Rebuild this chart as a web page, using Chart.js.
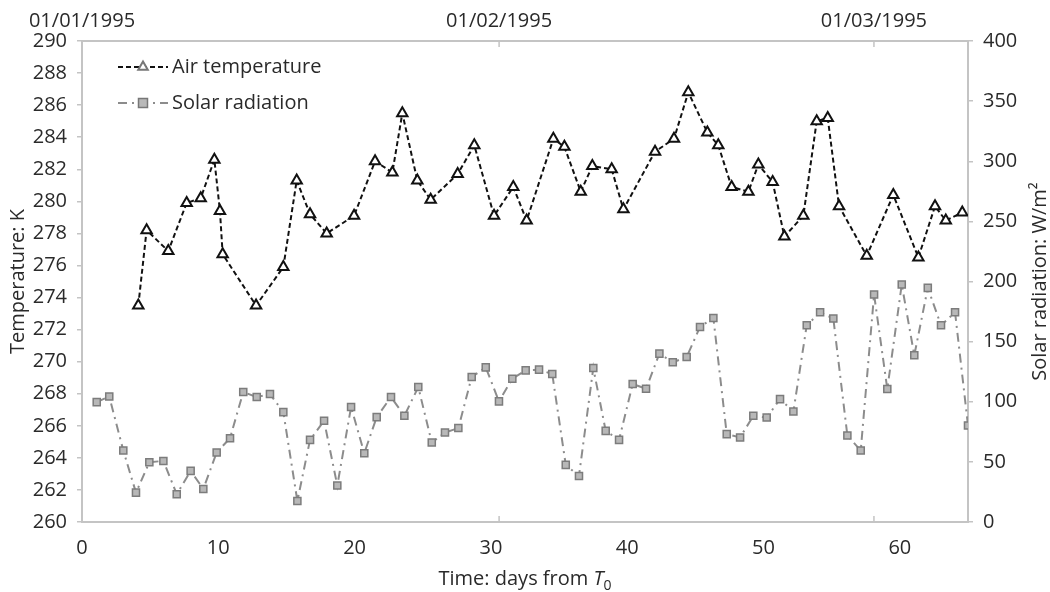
<!DOCTYPE html>
<html>
<head>
<meta charset="utf-8">
<title>Air temperature and solar radiation</title>
<script src="https://cdn.jsdelivr.net/npm/chart.js@4.4.0/dist/chart.umd.min.js"></script>
<style>
    body { margin: 0; background: #fff; }
    canvas { display: block; }
</style>
</head>
<body>
<canvas id="climateChart" width="1050" height="592"></canvas>
<script>
// Air temperature (K), days from T0
const tempDays = [4.13, 4.74, 6.33, 7.68, 8.71, 9.71, 10.12, 10.32, 12.77, 14.77, 15.75, 16.73, 17.95, 19.96, 21.5,
    22.77, 23.5, 24.6, 25.58, 27.56, 28.78, 30.23, 31.64, 32.62, 34.58, 35.39, 36.59, 37.44, 38.86, 39.72,
    42.04, 43.43, 44.48, 45.88, 46.68, 47.66, 48.89, 49.62, 50.67, 51.53, 52.92, 53.9, 54.71, 55.54,
    57.57, 59.52, 61.36, 62.58, 63.37, 64.58];
const tempValues = [273.5, 278.2, 276.9, 279.9, 280.2, 282.6, 279.4, 276.7, 273.5, 275.9, 281.3, 279.2, 278.0, 279.1, 282.5,
    281.8, 285.5, 281.3, 280.1, 281.7, 283.5, 279.1, 280.9, 278.8, 283.9, 283.4, 280.6, 282.2, 282.0, 279.5,
    283.1, 283.9, 286.8, 284.3, 283.5, 280.9, 280.6, 282.3, 281.2, 277.8, 279.1, 285.0, 285.2, 279.7,
    276.6, 280.4, 276.5, 279.7, 278.8, 279.3];

// Solar radiation (W/m2)
const solarDays = [1.08, 2.0, 3.03, 3.96, 4.94, 5.97, 6.95, 7.97, 8.9, 9.88, 10.86, 11.83, 12.82, 13.79, 14.77,
    15.8, 16.73, 17.76, 18.73, 19.74, 20.71, 21.62, 22.67, 23.65, 24.67, 25.66, 26.63, 27.61, 28.59, 29.62,
    30.59, 31.57, 32.55, 33.53, 34.5, 35.49, 36.46, 37.51, 38.42, 39.4, 40.4, 41.38, 42.36, 43.34, 44.36,
    45.34, 46.32, 47.3, 48.28, 49.25, 50.23, 51.21, 52.19, 53.17, 54.15, 55.12, 56.15, 57.13, 58.11, 59.08,
    60.14, 61.06, 62.05, 63.02, 64.05, 65.0];
const solarValues = [99.7, 104.4, 59.4, 24.4, 49.7, 50.8, 23.1, 42.5, 27.5, 57.8, 69.7, 108.1, 103.9, 106.4, 91.4,
    17.5, 68.3, 84.2, 30.3, 95.6, 57.2, 87.2, 103.9, 88.3, 112.2, 66.1, 74.4, 78.1, 120.6, 128.6,
    100.3, 119.2, 126.1, 126.7, 123.1, 47.5, 38.3, 128.1, 75.8, 68.3, 114.7, 110.8, 140, 132.8, 137.2,
    162.2, 169.7, 73.1, 70.3, 88.3, 86.9, 102.2, 91.9, 163.6, 174.4, 169.2, 71.9, 59.4, 189.2, 110.6,
    197.5, 138.6, 194.7, 163.6, 174.4, 80.3];

// axis ticks
const dayTicks = [0, 10, 20, 30, 40, 50, 60];
const dateTickDays = [0, 30.6, 58.1];
const dateTickLabels = ['01/01/1995', '01/02/1995', '01/03/1995'];

const FONT = "'Open Sans', 'DejaVu Sans', sans-serif";
const TEXT = '#2a2a2a';
const AXIS = '#c4c4c4';

const tempStyle = {
    borderColor: '#111', borderWidth: 2, borderDash: [5, 3],
    pointStyle: 'triangle', pointRadius: 6, pointBorderWidth: 2,
    pointBackgroundColor: '#fff', pointBorderColor: '#111'
};
const solarStyle = {
    borderColor: '#8c8c8c', borderWidth: 2, borderDash: [9, 5, 2, 5],
    pointStyle: 'rect', pointRadius: 5, pointBorderWidth: 1.5,
    pointBackgroundColor: '#b8b8b8', pointBorderColor: '#7c7c7c'
};

function drawMarker(ctx, style, x, y) {
    ctx.save();
    ctx.setLineDash([]);
    ctx.lineWidth = style.pointBorderWidth;
    ctx.strokeStyle = style.pointBorderColor;
    ctx.fillStyle = style.pointBackgroundColor;
    const r = style.pointRadius;
    ctx.beginPath();
    if (style.pointStyle === 'triangle') {
        ctx.moveTo(x, y - r);
        ctx.lineTo(x + r * 0.866, y + r * 0.5);
        ctx.lineTo(x - r * 0.866, y + r * 0.5);
        ctx.closePath();
    } else {
        ctx.rect(x - r, y - r, r * 2, r * 2);
    }
    ctx.fill();
    ctx.stroke();
    ctx.restore();
}

// legend, axis titles and the inner date ticks
const extrasPlugin = {
    id: 'extras',
    afterDraw(chart) {
        const ctx = chart.ctx;
        const area = chart.chartArea;

        // date ticks, drawn inward from the top and bottom frame
        const xs = chart.scales.x;
        ctx.save();
        ctx.strokeStyle = AXIS;
        ctx.lineWidth = 1.5;
        dateTickDays.forEach(d => {
            if (d <= 0) return;
            const px = xs.getPixelForValue(d);
            ctx.beginPath();
            ctx.moveTo(px, area.top);
            ctx.lineTo(px, area.top + 6);
            ctx.moveTo(px, area.bottom);
            ctx.lineTo(px, area.bottom - 6);
            ctx.stroke();
        });
        ctx.restore();

        // legend
        const items = [
            { text: 'Air temperature', style: tempStyle },
            { text: 'Solar radiation', style: solarStyle }
        ];
        items.forEach((item, i) => {
            const y = area.top + 26 + i * 36;
            const x0 = area.left + 36;
            ctx.save();
            ctx.strokeStyle = item.style.borderColor;
            ctx.lineWidth = 2;
            ctx.setLineDash(item.style.borderDash);
            ctx.beginPath();
            ctx.moveTo(x0, y);
            ctx.lineTo(x0 + 50, y);
            ctx.stroke();
            ctx.restore();
            drawMarker(ctx, Object.assign({}, item.style, { pointBorderColor: '#777', pointRadius: item.style.pointRadius - 0.5 }), x0 + 25, y);
            ctx.save();
            ctx.fillStyle = TEXT;
            ctx.font = '20px ' + FONT;
            ctx.textBaseline = 'middle';
            ctx.fillText(item.text, x0 + 54, y);
            ctx.restore();
        });

        // right axis title, reading bottom to top like the left one
        ctx.save();
        ctx.fillStyle = TEXT;
        ctx.font = '20px ' + FONT;
        ctx.textAlign = 'center';
        ctx.textBaseline = 'middle';
        ctx.translate(chart.width - 10, (area.top + area.bottom) / 2);
        ctx.rotate(-Math.PI / 2);
        ctx.fillText('Solar radiation: W/m²', 0, 0);
        ctx.restore();

        // x-axis title: Time: days from T0
        ctx.save();
        ctx.fillStyle = TEXT;
        ctx.textBaseline = 'alphabetic';
        const main = 'Time: days from ';
        ctx.font = '20px ' + FONT;
        const w1 = ctx.measureText(main).width;
        ctx.font = 'italic 20px ' + FONT;
        const w2 = ctx.measureText('T').width;
        ctx.font = '14px ' + FONT;
        const w3 = ctx.measureText('0').width;
        let x = (area.left + area.right) / 2 - (w1 + w2 + w3) / 2;
        const base = 585;
        ctx.font = '20px ' + FONT;
        ctx.fillText(main, x, base);
        x += w1;
        ctx.font = 'italic 20px ' + FONT;
        ctx.fillText('T', x, base);
        x += w2;
        ctx.font = '14px ' + FONT;
        ctx.fillText('0', x, base + 5);
        ctx.restore();
    }
};

const ctx = document.getElementById('climateChart').getContext('2d');
new Chart(ctx, {
    type: 'line',
    data: {
        datasets: [
            Object.assign({
                label: 'Air temperature',
                data: tempDays.map((d, i) => ({ x: d, y: tempValues[i] })),
                yAxisID: 'y',
                fill: false,
                tension: 0
            }, tempStyle),
            Object.assign({
                label: 'Solar radiation',
                data: solarDays.map((d, i) => ({ x: d, y: solarValues[i] })),
                yAxisID: 'y2',
                fill: false,
                tension: 0
            }, solarStyle)
        ]
    },
    options: {
        responsive: false,
        animation: false,
        layout: { padding: 0 },
        plugins: {
            legend: { display: false },
            tooltip: { enabled: false }
        },
        scales: {
            x: {
                type: 'linear',
                position: 'bottom',
                min: 0,
                max: 65,
                afterFit: s => { s.height = 70; },
                afterBuildTicks: s => { s.ticks = dayTicks.map(v => ({ value: v })); },
                grid: { display: false, drawTicks: false },
                border: { display: true, color: AXIS, width: 2 },
                ticks: { padding: 14, color: TEXT, font: { family: FONT, size: 20 } }
            },
            xTop: {
                type: 'linear',
                position: 'top',
                min: 0,
                max: 65,
                afterFit: s => { s.height = 41; },
                afterBuildTicks: s => { s.ticks = dateTickDays.map(v => ({ value: v })); },
                grid: { display: false, drawTicks: false },
                border: { display: true, color: AXIS, width: 2 },
                ticks: {
                    padding: 8,
                    color: TEXT,
                    font: { family: FONT, size: 20 },
                    callback: v => dateTickLabels[dateTickDays.indexOf(v)]
                }
            },
            y: {
                type: 'linear',
                position: 'left',
                min: 260,
                max: 290,
                afterFit: s => { s.width = 82; },
                grid: { drawOnChartArea: false, drawTicks: true, tickLength: 5, color: AXIS, lineWidth: 1.5 },
                border: { display: true, color: AXIS, width: 2 },
                ticks: { stepSize: 2, padding: 10, color: TEXT, font: { family: FONT, size: 20 } },
                title: {
                    display: true,
                    text: 'Temperature: K',
                    color: TEXT,
                    font: { family: FONT, size: 20, lineHeight: 1 },
                    padding: { top: 8, bottom: 0 }
                }
            },
            y2: {
                type: 'linear',
                position: 'right',
                min: 0,
                max: 400,
                afterFit: s => { s.width = 82; },
                grid: { drawOnChartArea: false, drawTicks: true, tickLength: 5, color: AXIS, lineWidth: 1.5 },
                border: { display: true, color: AXIS, width: 2 },
                ticks: { stepSize: 50, padding: 10, color: TEXT, font: { family: FONT, size: 20 } }
            }
        }
    },
    plugins: [extrasPlugin]
});
</script>
</body>
</html>
